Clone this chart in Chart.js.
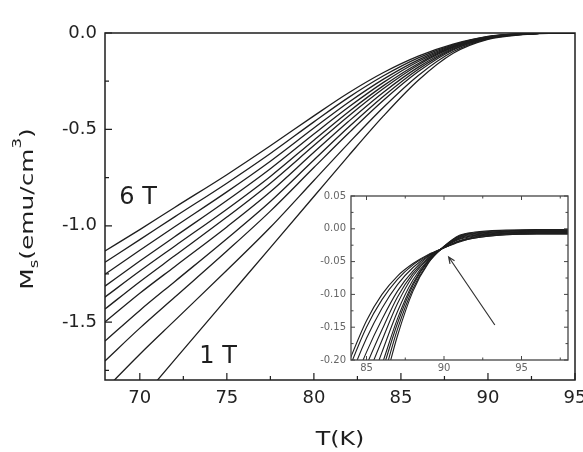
<!DOCTYPE html>
<html>
<head>
<meta charset="utf-8">
<script src="https://cdn.jsdelivr.net/npm/chart.js@4.4.0/dist/chart.umd.min.js"></script>
<style>
  body { margin: 0; background: #fff; }
  #wrap { position: relative; width: 583px; height: 452px; overflow: hidden; }
  #main { position: absolute; left: 0; top: 0; }
  #inset { position: absolute; left: 300px; top: 180px; }
</style>
</head>
<body>
<div id="wrap">
  <canvas id="main" width="583" height="452"></canvas>
  <canvas id="inset" width="283" height="205"></canvas>
</div>
<script>
// --- main panel: Ms(T) for fields 6 T ... 1 T (step 0.5 T) ---
const MAIN_T = [68, 70, 72, 75, 77.5, 80, 82, 84, 86, 88, 90, 92, 94, 95];
const m60 = [-1.131, -1.020, -0.905, -0.735, -0.585, -0.430, -0.310, -0.205, -0.120, -0.058, -0.018, -0.004, 0, 0];
const m55 = [-1.189, -1.072, -0.954, -0.779, -0.625, -0.461, -0.334, -0.222, -0.129, -0.062, -0.019, -0.004, 0, 0];
const m50 = [-1.251, -1.127, -1.005, -0.824, -0.665, -0.493, -0.359, -0.239, -0.139, -0.065, -0.020, -0.005, 0, 0];
const m45 = [-1.313, -1.183, -1.057, -0.869, -0.704, -0.524, -0.384, -0.256, -0.148, -0.069, -0.021, -0.005, 0, 0];
const m40 = [-1.370, -1.235, -1.106, -0.914, -0.744, -0.556, -0.408, -0.273, -0.158, -0.072, -0.023, -0.005, 0, 0];
const m35 = [-1.432, -1.290, -1.156, -0.955, -0.779, -0.584, -0.430, -0.288, -0.166, -0.075, -0.024, -0.005, 0, 0];
const m30 = [-1.499, -1.350, -1.212, -1.006, -0.824, -0.619, -0.458, -0.307, -0.177, -0.079, -0.025, -0.006, 0, 0];
const m25 = [-1.598, -1.439, -1.290, -1.067, -0.874, -0.659, -0.488, -0.328, -0.188, -0.084, -0.026, -0.006, 0, 0];
const m20 = [-1.701, -1.531, -1.371, -1.131, -0.924, -0.698, -0.519, -0.349, -0.200, -0.088, -0.028, -0.006, 0, 0];
const m15 = [-1.850, -1.666, -1.492, -1.231, -1.008, -0.765, -0.571, -0.385, -0.220, -0.096, -0.030, -0.007, 0, 0];
const m10 = [-2.120, -1.908, -1.696, -1.378, -1.113, -0.848, -0.636, -0.430, -0.245, -0.105, -0.033, -0.008, 0, 0];
const FIELDS = ['6 T', '5.5 T', '5 T', '4.5 T', '4 T', '3.5 T', '3 T', '2.5 T', '2 T', '1.5 T', '1 T'];
const MAIN_SERIES = [m60, m55, m50, m45, m40, m35, m30, m25, m20, m15, m10];

// --- inset: zoom near Tc ---
const INSET_T = [83.5, 84, 85, 86, 87, 88, 89, 90, 91, 92, 94, 96, 98];
const d60 = [-0.226, -0.195, -0.140, -0.100, -0.072, -0.053, -0.039, -0.029, -0.020, -0.014, -0.009, -0.008, -0.008];
const d55 = [-0.238, -0.206, -0.150, -0.108, -0.077, -0.055, -0.040, -0.029, -0.019, -0.014, -0.009, -0.008, -0.008];
const d50 = [-0.257, -0.224, -0.167, -0.121, -0.085, -0.059, -0.041, -0.029, -0.019, -0.013, -0.008, -0.007, -0.007];
const d45 = [-0.280, -0.246, -0.188, -0.138, -0.095, -0.064, -0.042, -0.029, -0.018, -0.012, -0.007, -0.006, -0.006];
const d40 = [-0.302, -0.268, -0.208, -0.154, -0.104, -0.068, -0.044, -0.028, -0.016, -0.011, -0.007, -0.006, -0.006];
const d35 = [-0.325, -0.290, -0.228, -0.170, -0.114, -0.072, -0.045, -0.028, -0.015, -0.010, -0.006, -0.005, -0.005];
const d30 = [-0.352, -0.316, -0.252, -0.188, -0.126, -0.078, -0.047, -0.028, -0.014, -0.009, -0.005, -0.004, -0.004];
const d25 = [-0.379, -0.341, -0.276, -0.207, -0.137, -0.083, -0.048, -0.028, -0.013, -0.008, -0.004, -0.003, -0.003];
const d20 = [-0.394, -0.356, -0.289, -0.218, -0.144, -0.086, -0.049, -0.027, -0.012, -0.007, -0.004, -0.002, -0.002];
const d15 = [-0.417, -0.378, -0.310, -0.234, -0.153, -0.091, -0.051, -0.027, -0.011, -0.006, -0.003, -0.002, -0.002];
const d10 = [-0.440, -0.400, -0.330, -0.250, -0.163, -0.095, -0.052, -0.027, -0.010, -0.005, -0.002, -0.001, -0.001];
const INSET_SERIES = [d60, d55, d50, d45, d40, d35, d30, d25, d20, d15, d10];

// tick positions
const MAIN_X_TICKS = [70, 75, 80, 85, 90, 95];
const MAIN_X_MINOR = [72.5, 77.5, 82.5, 87.5, 92.5];
const MAIN_Y_TICKS = [-1.5, -1.0, -0.5, 0.0];
const MAIN_Y_MINOR = [-1.75, -1.25, -0.75, -0.25];
const INSET_X_TICKS = [85, 90, 95];
const INSET_X_MINOR = [87.5, 92.5, 97.5];
const INSET_Y_TICKS = [-0.20, -0.15, -0.10, -0.05, 0.00, 0.05];
const INSET_Y_MINOR = [-0.175, -0.125, -0.075, -0.025, 0.025];

const FONT = '"DejaVu Sans", "Liberation Sans", Arial, sans-serif';
const INK = '#1e1e1e';

function toPoints(xs, ys) {
  return xs.map((x, i) => ({ x: x, y: ys[i] }));
}

function lineSet(label, xs, ys, w) {
  return {
    label: label,
    data: toPoints(xs, ys),
    borderColor: INK,
    borderWidth: w,
    pointRadius: 0,
    fill: false,
    cubicInterpolationMode: 'monotone'
  };
}

function fixedTicks(list) {
  return s => { s.ticks = list.map(v => ({ value: v })); };
}

// frame + inward ticks (major/minor)
function drawFrame(chart, spec) {
  const ctx = chart.ctx, a = chart.chartArea;
  const sx = chart.scales.x, sy = chart.scales.y;
  ctx.save();
  ctx.strokeStyle = spec.color;
  ctx.lineWidth = spec.width;
  ctx.strokeRect(a.left, a.top, a.right - a.left, a.bottom - a.top);
  ctx.lineWidth = spec.tickWidth;
  ctx.beginPath();
  const xt = (vals, len) => vals.forEach(v => {
    const p = sx.getPixelForValue(v);
    ctx.moveTo(p, a.bottom); ctx.lineTo(p, a.bottom - len);
    if (spec.allSides) { ctx.moveTo(p, a.top); ctx.lineTo(p, a.top + len); }
  });
  const yt = (vals, len) => vals.forEach(v => {
    const p = sy.getPixelForValue(v);
    ctx.moveTo(a.left, p); ctx.lineTo(a.left + len, p);
    if (spec.allSides) { ctx.moveTo(a.right, p); ctx.lineTo(a.right - len, p); }
  });
  xt(spec.xMajor, spec.major); xt(spec.xMinor, spec.minor);
  yt(spec.yMajor, spec.major); yt(spec.yMinor, spec.minor);
  ctx.stroke();
  ctx.restore();
}

// --- main chart ---
const mainDecor = {
  id: 'mainDecor',
  afterDatasetsDraw(chart) {
    const ctx = chart.ctx;
    const sx = chart.scales.x, sy = chart.scales.y;
    drawFrame(chart, {
      color: INK, width: 1.5, tickWidth: 1.2, allSides: false, major: 7, minor: 4,
      xMajor: MAIN_X_TICKS, xMinor: MAIN_X_MINOR, yMajor: MAIN_Y_TICKS, yMinor: MAIN_Y_MINOR
    });

    ctx.save();
    ctx.fillStyle = INK;
    // field labels
    ctx.font = '24px ' + FONT;
    ctx.textAlign = 'center';
    ctx.textBaseline = 'middle';
    ctx.fillText('6 T', sx.getPixelForValue(69.9), sy.getPixelForValue(-0.848) + 1);
    ctx.fillText('1 T', sx.getPixelForValue(74.5), sy.getPixelForValue(-1.675) + 1);

    // x title
    ctx.save();
    ctx.translate(340, 445);
    ctx.scale(1.25, 1);
    ctx.font = '19px ' + FONT;
    ctx.textBaseline = 'alphabetic';
    ctx.fillText('T(K)', 0, 0);
    ctx.restore();

    // y title with sub/superscript
    const big = '18px ' + FONT, small = '12px ' + FONT;
    const parts = [['M', big, 0], ['s', small, 5], ['(emu/cm', big, 0], ['3', small, -12], [')', big, 0]];
    ctx.save();
    ctx.translate(33, 209);
    ctx.rotate(-Math.PI / 2);
    ctx.scale(1.38, 1);
    ctx.textAlign = 'left';
    ctx.textBaseline = 'alphabetic';
    let total = 0;
    parts.forEach(p => { ctx.font = p[1]; total += ctx.measureText(p[0]).width; });
    let cx = -total / 2;
    parts.forEach(p => {
      ctx.font = p[1];
      ctx.fillText(p[0], cx, p[2]);
      cx += ctx.measureText(p[0]).width;
    });
    ctx.restore();
    ctx.restore();
  }
};

new Chart(document.getElementById('main'), {
  type: 'line',
  data: { datasets: MAIN_SERIES.map((ys, i) => lineSet(FIELDS[i], MAIN_T, ys, 1.3)) },
  options: {
    responsive: false,
    animation: false,
    events: [],
    layout: { padding: { left: 0, top: 33, right: 8, bottom: 0 } },
    plugins: { legend: { display: false }, tooltip: { enabled: false } },
    scales: {
      x: {
        type: 'linear', min: 68, max: 95,
        afterBuildTicks: fixedTicks(MAIN_X_TICKS),
        afterFit: s => { s.height = 72; s.paddingLeft = 0; s.paddingRight = 0; },
        grid: { display: false, drawTicks: false },
        border: { display: false },
        ticks: { font: { family: FONT, size: 18 }, color: '#222', padding: 8,
                 maxRotation: 0, minRotation: 0, autoSkip: false, callback: v => String(v) }
      },
      y: {
        type: 'linear', min: -1.8, max: 0,
        afterBuildTicks: fixedTicks(MAIN_Y_TICKS),
        afterFit: s => { s.width = 105; s.paddingTop = 0; s.paddingBottom = 0; },
        grid: { display: false, drawTicks: false },
        border: { display: false },
        ticks: { font: { family: FONT, size: 18 }, color: '#222', padding: 8,
                 autoSkip: false, callback: v => v.toFixed(1) }
      }
    }
  },
  plugins: [mainDecor]
});

// --- inset chart ---
const insetDecor = {
  id: 'insetDecor',
  beforeDatasetsDraw(chart) {
    const a = chart.chartArea, ctx = chart.ctx;
    ctx.save();
    ctx.fillStyle = '#fff';
    ctx.fillRect(a.left, a.top, a.right - a.left, a.bottom - a.top);
    ctx.restore();
  },
  afterDatasetsDraw(chart) {
    const ctx = chart.ctx;
    const sx = chart.scales.x, sy = chart.scales.y;
    drawFrame(chart, {
      color: '#444', width: 1.3, tickWidth: 1, allSides: true, major: 4, minor: 2.5,
      xMajor: INSET_X_TICKS, xMinor: INSET_X_MINOR, yMajor: INSET_Y_TICKS, yMinor: INSET_Y_MINOR
    });
    // arrow pointing at the crossing
    const x0 = sx.getPixelForValue(93.28), y0 = sy.getPixelForValue(-0.1466);
    const x1 = sx.getPixelForValue(90.30), y1 = sy.getPixelForValue(-0.043);
    const ang = Math.atan2(y1 - y0, x1 - x0);
    ctx.save();
    ctx.strokeStyle = '#333';
    ctx.lineWidth = 1.2;
    ctx.beginPath();
    ctx.moveTo(x0, y0); ctx.lineTo(x1, y1);
    ctx.moveTo(x1 - 7 * Math.cos(ang - 0.4), y1 - 7 * Math.sin(ang - 0.4));
    ctx.lineTo(x1, y1);
    ctx.lineTo(x1 - 7 * Math.cos(ang + 0.4), y1 - 7 * Math.sin(ang + 0.4));
    ctx.stroke();
    ctx.restore();
  }
};

new Chart(document.getElementById('inset'), {
  type: 'line',
  data: { datasets: INSET_SERIES.map((ys, i) => lineSet(FIELDS[i], INSET_T, ys, 1.1)) },
  options: {
    responsive: false,
    animation: false,
    events: [],
    layout: { padding: { left: 0, top: 16, right: 15, bottom: 0 } },
    plugins: { legend: { display: false }, tooltip: { enabled: false } },
    scales: {
      x: {
        type: 'linear', min: 84, max: 98,
        afterBuildTicks: fixedTicks(INSET_X_TICKS),
        afterFit: s => { s.height = 25; s.paddingLeft = 0; s.paddingRight = 0; },
        grid: { display: false, drawTicks: false },
        border: { display: false },
        ticks: { font: { family: FONT, size: 10 }, color: '#666', padding: 2,
                 maxRotation: 0, minRotation: 0, autoSkip: false, callback: v => String(v) }
      },
      y: {
        type: 'linear', min: -0.2, max: 0.05,
        afterBuildTicks: fixedTicks(INSET_Y_TICKS),
        afterFit: s => { s.width = 51; s.paddingTop = 0; s.paddingBottom = 0; },
        grid: { display: false, drawTicks: false },
        border: { display: false },
        ticks: { font: { family: FONT, size: 10 }, color: '#666', padding: 5,
                 autoSkip: false, callback: v => v.toFixed(2) }
      }
    }
  },
  plugins: [insetDecor]
});
</script>
</body>
</html>
